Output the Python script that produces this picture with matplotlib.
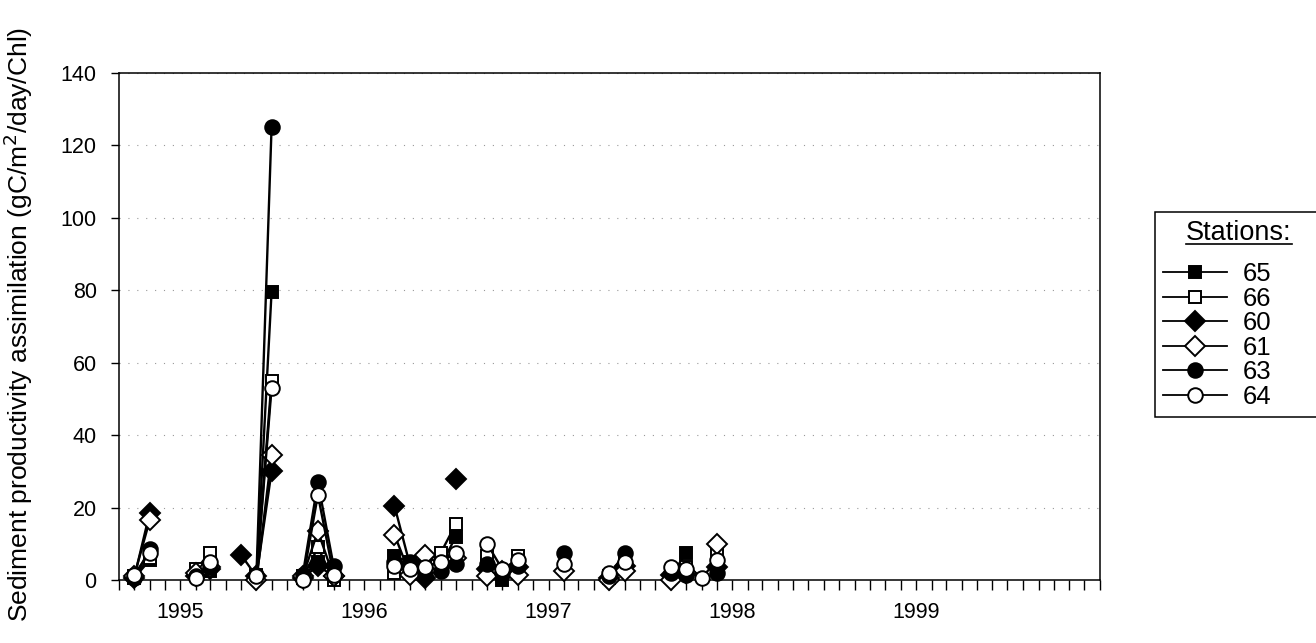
import numpy as np
import pandas as pd
import matplotlib
matplotlib.use("Agg")
import matplotlib.pyplot as plt
import matplotlib.dates as mdates
from matplotlib.lines import Line2D

plt.rcParams['font.family'] = ['Liberation Sans', 'DejaVu Sans']

# monthly sampling grid, Sep 1994 .. Dec 1997 (None = no sample, breaks the line)
months = pd.date_range("1994-09-01", periods=40, freq="MS")
N = None

st65 = [N, 0.5, 5.5, N, N, 1.5, 2.5, N, N, 1, 79.5, N, 1, 5, 3, N, N, N, 6.5, 5,
        2, 4, 12, N, 4, 0, 3, N, N, N, N, N, 0.5, 5, N, N, 1, 7.5, N, 3]
st66 = [N, 1, 6, N, N, 3, 7.5, N, N, 1.5, 55, N, 0.5, 9, 0, N, N, N, 2, 4,
        5, 7.5, 15.5, N, 6.5, 2, 6.5, N, N, N, N, N, 1, 4, N, N, 2, 3.5, N, 7]
st60 = [N, 0.5, 18.5, N, N, 1, 3, N, 7, 1, 30, N, 0.5, 4, 1, N, N, N, 20.5, 4,
        0.5, N, 28, N, 3, 1.5, 3.5, N, N, N, N, N, 0.5, 4, N, N, 1.5, 2, N, 3.5]
st61 = [N, 1, 16.5, N, N, 2, 3.5, N, N, 0, 34.5, N, 1, 13.5, 1, N, N, N, 12.5, 1.5,
        7, 4, 6, N, 1, 2.5, 1.5, N, N, 2.5, N, N, 0, 2.5, N, N, 0, 2, N, 10]
st63 = [N, 0.5, 8.5, N, N, 1, 3.5, N, N, 1.5, 125, N, 1.5, 27, 4, N, N, N, 5, 5,
        1.5, 2.5, 4.5, N, 4.5, 2, 4, N, N, 7.5, N, N, 1, 7.5, N, N, 2, 1.5, N, 2]
st64 = [N, 1.5, 7.5, N, N, 0.5, 5, N, N, 1, 53, N, 0, 23.5, 1.5, N, N, N, 4, 3,
        3.5, 5, 7.5, N, 10, 3, 5.5, N, N, 4.5, N, N, 2, 5, N, N, 3.5, 3, 0.5, 5.5]

stations = ["65", "66", "60", "61", "63", "64"]
series = [st65, st66, st60, st61, st63, st64]
markers = ["s", "s", "D", "D", "o", "o"]
faces = ["black", "white", "black", "white", "black", "white"]
msizes = [9, 9, 10, 10, 10.5, 10.5]

year_ticks = pd.to_datetime(["1995-01-01", "1996-01-01", "1997-01-01",
                             "1998-01-01", "1999-01-01"])

fig = plt.figure(figsize=(13.16, 6.43), dpi=100)
ax = fig.add_axes([0.0904, 0.098, 0.7455, 0.7885])

for name, vals, mk, fc, ms in zip(stations, series, markers, faces, msizes):
    y = np.array([np.nan if v is None else v for v in vals], dtype=float)
    ax.plot(months, y, color="black", lw=1.7, marker=mk, markersize=ms,
            markerfacecolor=fc, markeredgecolor="black", markeredgewidth=1.4,
            label=name, clip_on=False, zorder=3)

ax.set_ylim(0, 140)
ax.set_yticks(np.arange(0, 141, 20))
ax.set_xlim(pd.Timestamp("1994-09-01"), pd.Timestamp("2000-01-01"))
ax.set_xticks(year_ticks)
ax.xaxis.set_major_formatter(mdates.DateFormatter("%Y"))
ax.xaxis.set_minor_locator(mdates.MonthLocator())

ax.tick_params(axis="x", which="both", direction="out", length=7, width=1,
               labelsize=15.5, pad=9)
ax.tick_params(axis="y", direction="out", length=6, width=1, labelsize=15.5, pad=10)

ax.grid(axis="y", color="#999999", linestyle=(0, (1, 7)), lw=0.8)
ax.set_axisbelow(True)
for s in ax.spines.values():
    s.set_color("black")
    s.set_linewidth(1.1)

ax.set_ylabel("Sediment productivity assimilation (gC/m$^2$/day/Chl)", fontsize=19)
ax.yaxis.set_label_coords(-0.086, 0.505)

leg = ax.legend(title="Stations:", loc="upper left",
                bbox_to_anchor=(1155 / 1316, 1 - 212 / 643, 168 / 1316, 0.0),
                bbox_transform=fig.transFigure, mode="expand", borderaxespad=0,
                fontsize=18.5, title_fontsize=19.5, handlelength=2.5,
                handletextpad=0.6, labelspacing=0.02, borderpad=0.3,
                fancybox=False, framealpha=1, edgecolor="black")
leg.get_frame().set_linewidth(1.1)
leg._legend_box.sep = 12
for h in leg.legend_handles:
    h.set_linewidth(1.3)

# underline the legend title
fig.canvas.draw()
bb = leg.get_title().get_window_extent().transformed(fig.transFigure.inverted())
fig.add_artist(Line2D([bb.x0, bb.x1], [bb.y0 + 0.003, bb.y0 + 0.003],
                      color="black", lw=1.2, transform=fig.transFigure))

fig.savefig("out.png", dpi=100)
